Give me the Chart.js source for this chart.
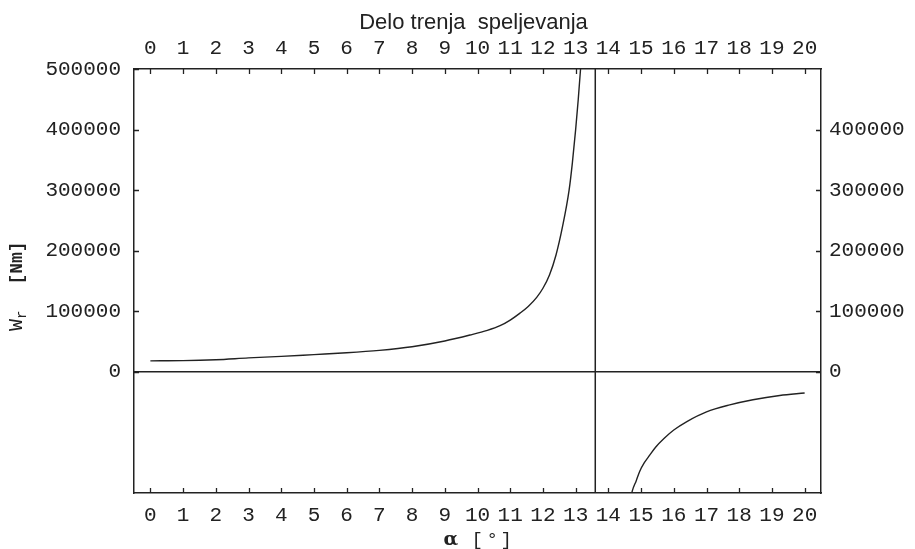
<!DOCTYPE html>
<html lang="sl">
<head>
    <meta charset="UTF-8">
    <title>Delo trenja speljevanja</title>
    <script src="https://cdn.jsdelivr.net/npm/chart.js@4.4.1/dist/chart.umd.min.js"></script>
    <style>
        body {
            margin: 0;
            background-color: #fff;
        }

        .chart-wrap {
            position: relative;
            width: 915px;
            height: 549px;
        }
    </style>
</head>
<body>

    <div class="chart-wrap">
        <canvas id="workChart"></canvas>
    </div>

    <script>
    // Podatki odčitani s slike
    const chartTitle = 'Delo trenja  speljevanja';
    const xTicks = [0, 1, 2, 3, 4, 5, 6, 7, 8, 9, 10, 11, 12, 13, 14, 15, 16, 17, 18, 19, 20];
    const yTicksLeft = [0, 100000, 200000, 300000, 400000, 500000];
    const yTicksRight = [0, 100000, 200000, 300000, 400000];
    const asymptoteX = 13.6;

    // levi del krivulje (pred asimptoto)
    const leftAlpha = [0, 1, 2, 3, 4, 5, 6, 7, 8, 9, 9.77, 10.3, 10.69, 11.0, 11.3, 11.55, 11.81, 12.0, 12.2, 12.4, 12.6, 12.8, 12.9, 13.0, 13.08, 13.15, 13.2];
    const leftWork = [18200, 18500, 20000, 23000, 25500, 28500, 31500, 35500, 41500, 51000, 60800, 68500, 76200, 85500, 97000, 108000, 123000, 138000, 160000, 193000, 240000, 300000, 345000, 400000, 450000, 500000, 540000];

    // desni del krivulje (za asimptoto)
    const rightAlpha = [14.7, 14.73, 14.85, 14.96, 15.1, 15.27, 15.45, 15.7, 16.0, 16.4, 17.0, 17.71, 18.42, 19.24, 20.0];
    const rightWork = [-205000, -197000, -180000, -164000, -150000, -137000, -124000, -110000, -96000, -82000, -66000, -54500, -46000, -39000, -35000];

    const xRange = [-0.5, 20.5];
    const yRange = [-200000, 500000];

    const toPoints = (xs, ys) => xs.map((x, i) => ({ x: x, y: ys[i] }));

    const ink = '#222';
    const monoFont = { family: '"Liberation Mono", monospace', size: 21, lineHeight: 1 };

    // notranje oznake na okvirju + naslovi osi
    const frameExtras = {
        id: 'frameExtras',
        afterDraw(chart) {
            const { ctx, chartArea: a, scales } = chart;
            ctx.save();
            ctx.strokeStyle = ink;
            ctx.lineWidth = 1.3;
            ctx.beginPath();
            xTicks.forEach(v => {
                const px = Math.round(scales.x.getPixelForValue(v)) + 0.5;
                ctx.moveTo(px, a.top); ctx.lineTo(px, a.top + 5);
                ctx.moveTo(px, a.bottom); ctx.lineTo(px, a.bottom - 5);
            });
            yTicksLeft.forEach(v => {
                const py = Math.round(scales.y.getPixelForValue(v)) + 0.5;
                ctx.moveTo(a.left, py); ctx.lineTo(a.left + 5, py);
            });
            yTicksRight.forEach(v => {
                const py = Math.round(scales.y2.getPixelForValue(v)) + 0.5;
                ctx.moveTo(a.right, py); ctx.lineTo(a.right - 5, py);
            });
            ctx.stroke();

            ctx.fillStyle = ink;
            const cx = (a.left + a.right) / 2;

            // glavni naslov
            ctx.font = '22px "Liberation Sans", Arial, sans-serif';
            ctx.textAlign = 'center';
            ctx.textBaseline = 'alphabetic';
            ctx.fillText(chartTitle, cx - 4, 29);

            // naslov osi x:  α [°]
            ctx.textAlign = 'left';
            ctx.font = 'bold 19px "DejaVu Serif", serif';
            ctx.fillText('α', cx - 34, 545);
            ctx.font = '19px "Liberation Mono", monospace';
            ctx.fillText('[', cx - 6, 545);
            ctx.fillText('°', cx + 9, 545);
            ctx.fillText(']', cx + 23, 545);

            // naslov osi y:  W_r [Nm]
            ctx.translate(22, 331);
            ctx.rotate(-Math.PI / 2);
            ctx.font = '20px "Liberation Mono", monospace';
            ctx.fillText('W', 0, 0);
            let off = ctx.measureText('W').width;
            ctx.font = '14px "Liberation Mono", monospace';
            ctx.fillText('r', off, 4);
            off += ctx.measureText('r').width + 26;
            ctx.font = 'bold 18px "Liberation Mono", monospace';
            ctx.fillText('[Nm]', off, 0);
            ctx.restore();
        }
    };

    const lineStyle = {
        showLine: true,
        borderColor: ink,
        borderWidth: 1.4,
        pointRadius: 0,
        fill: false,
        xAxisID: 'x',
        yAxisID: 'y'
    };

    function makeX(position, height) {
        return {
            type: 'linear',
            position: position,
            min: xRange[0],
            max: xRange[1],
            afterBuildTicks: s => { s.ticks = xTicks.map(v => ({ value: v })); },
            afterFit: s => { s.height = height; },
            ticks: {
                autoSkip: false,
                maxRotation: 0,
                padding: position === 'top' ? 10 : 12,
                color: ink,
                font: monoFont,
                callback: v => String(v)
            },
            grid: { drawOnChartArea: false, drawTicks: false },
            border: { color: ink, width: 1.5 }
        };
    }

    function makeY(position, width, tickList) {
        return {
            type: 'linear',
            position: position,
            min: yRange[0],
            max: yRange[1],
            afterBuildTicks: s => { s.ticks = tickList.map(v => ({ value: v })); },
            afterFit: s => { s.width = width; },
            ticks: {
                padding: position === 'left' ? 13 : 8,
                color: ink,
                font: monoFont,
                callback: v => String(v)
            },
            grid: { drawOnChartArea: false, drawTicks: false },
            border: { color: ink, width: 1.5 }
        };
    }

    const workChart = new Chart(document.getElementById('workChart'), {
        type: 'scatter',
        data: {
            datasets: [
                Object.assign({ label: 'os x', data: toPoints(xRange, [0, 0]) }, lineStyle, { borderWidth: 1.5 }),
                Object.assign({ label: 'asimptota', data: toPoints([asymptoteX, asymptoteX], yRange) }, lineStyle, { borderWidth: 1.5 }),
                Object.assign({ label: 'Wr levo', data: toPoints(leftAlpha, leftWork), cubicInterpolationMode: 'monotone' }, lineStyle),
                Object.assign({ label: 'Wr desno', data: toPoints(rightAlpha, rightWork), cubicInterpolationMode: 'monotone' }, lineStyle)
            ]
        },
        options: {
            responsive: true,
            maintainAspectRatio: false,
            animation: false,
            layout: { padding: 0 },
            plugins: {
                legend: { display: false },
                tooltip: { enabled: false }
            },
            scales: {
                x: makeX('bottom', 56),
                x2: makeX('top', 69),
                y: makeY('left', 134, yTicksLeft),
                y2: makeY('right', 94, yTicksRight)
            }
        },
        plugins: [frameExtras]
    });
    </script>

</body>
</html>
